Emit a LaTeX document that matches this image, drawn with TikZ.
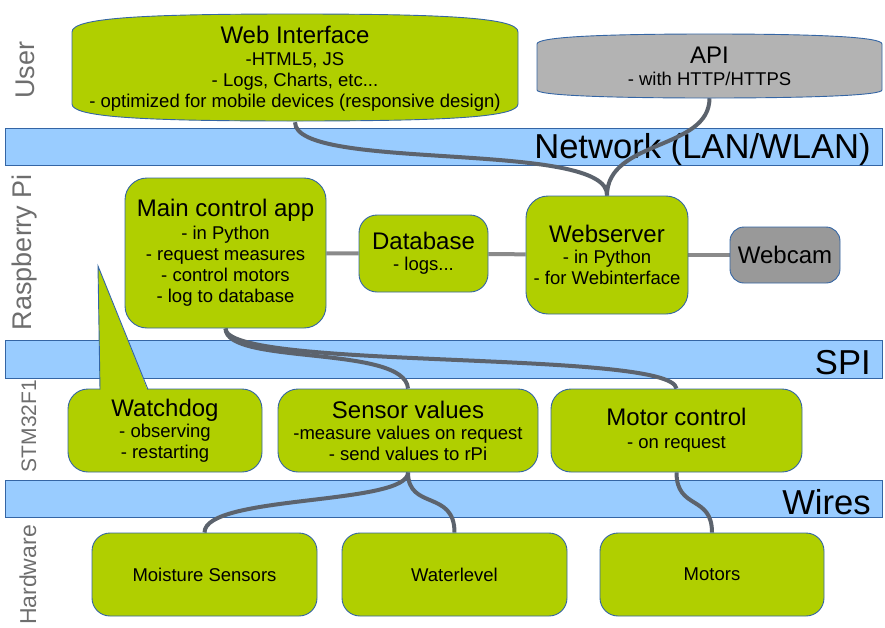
\documentclass[tikz,border=0pt]{standalone}
\usepackage{fontspec}
\setmainfont{Liberation Sans}
\usepackage{tikz}
\usetikzlibrary{positioning}

\definecolor{leaf}{HTML}{B0CF00}
\definecolor{apigray}{HTML}{B3B3B3}
\definecolor{camgray}{HTML}{999999}
\definecolor{busblue}{HTML}{99CCFF}
\definecolor{edgeblue}{HTML}{3465A4}
\definecolor{cablegray}{HTML}{5C636D}
\definecolor{linkgray}{HTML}{8A8A8A}
\definecolor{sidegray}{HTML}{6E6E6E}

\pgfdeclarelayer{background}
\pgfsetlayers{background,main}

\newcommand{\boxtitle}{\fontsize{24}{26}\selectfont}
\newcommand{\boxtext}{\fontsize{18.5}{21}\selectfont}

\tikzset{
  block/.style={draw=edgeblue, line width=0.9pt, fill=leaf, rounded corners=20, align=center, inner sep=0pt, font=\boxtext},
  textonly/.style={align=center, inner sep=0pt, font=\boxtext},
  bulge/.style={draw=edgeblue, line width=0.9pt},
  bus/.style={draw=edgeblue, line width=0.9pt, fill=busblue, minimum width=877, minimum height=37, anchor=north west, inner sep=0pt},
  bustext/.style={font=\fontsize{34.6}{36}\selectfont, inner sep=0pt, yshift=-3pt},
  tier/.style={rotate=90, text=sidegray, font=\fontsize{27}{29}\selectfont, inner sep=0pt},
  cable/.style={draw=cablegray, line width=4pt},
  link/.style={draw=linkgray, line width=4pt},
}

\begin{document}
\begin{tikzpicture}[x=1pt, y=-1pt]
\useasboundingbox (0,0) rectangle (885,627);

% layers
\begin{pgfonlayer}{background}
\node[bus] (lan) at (5,128) {};
\node[bustext, left=12pt of lan.east] (lantext) {Network (LAN/WLAN)};
\node[bus, minimum height=38] (spi) at (5,340) {};
\node[bustext, left=12pt of spi.east] (spitext) {SPI};
\node[bus] (wires) at (5,480) {};
\node[bustext, left=12pt of wires.east] (wirestext) {Wires};
\end{pgfonlayer}

\node[tier] (userside) at (25,70) {User};
\node[tier] (piside) at (25,252) {Raspberry Pi};
\node[tier, font=\fontsize{21}{23}\selectfont] (stmside) at (29,426) {STM32F1};
\node[tier, font=\fontsize{23}{25}\selectfont] (hwside) at (28,575) {Hardware};

% user boxes
\draw[bulge, fill=leaf] (72,104) -- (72,32) .. controls (72,18) and (140,14) .. (295,14) .. controls (450,14) and (518,18) .. (518,32) -- (518,104) .. controls (518,117) and (450,121) .. (295,121) .. controls (140,121) and (72,117) .. (72,104) -- cycle;
\draw[bulge, fill=apigray] (537,90) -- (537,44) .. controls (537,37) and (600,34) .. (709.5,34) .. controls (819,34) and (882,37) .. (882,44) -- (882,90) .. controls (882,95) and (819,98) .. (709.5,98) .. controls (600,98) and (537,95) .. (537,90) -- cycle;
\node[textonly, minimum width=446, minimum height=107] (web) at (295,68.5) {{\boxtitle Web Interface}\\[1pt]-HTML5, JS\\- Logs, Charts, etc...\\- optimized for mobile devices (responsive design)};
\node[textonly, minimum width=345, minimum height=64] (api) at (709.5,66) {{\boxtitle API}\\[1pt]- with HTTP/HTTPS};

% raspberry pi
\node[block, minimum width=201, minimum height=150, rounded corners=22] (main) at (225.5,253) {{\boxtitle Main control app}\\[2pt]- in Python\\- request measures\\- control motors\\- log to database};
\node[block, minimum width=129, minimum height=77, rounded corners=18] (db) at (423.5,253.5) {{\boxtitle Database}\\- logs...};
\node[block, minimum width=162, minimum height=118, rounded corners=22] (webserver) at (607,255) {{\boxtitle Webserver}\\- in Python\\- for Webinterface};
\node[block, fill=camgray, minimum width=110, minimum height=56, rounded corners=14] (webcam) at (785,255) {\boxtitle Webcam};

% stm32
\node[block, minimum width=194, minimum height=83] (dog) at (165,430.5) {{\boxtitle Watchdog}\\- observing\\- restarting};
\fill[leaf] (98,266) -- (148,391) -- (100,391) -- cycle;
\draw[bulge] (100,389.5) -- (98,266) -- (148,389.5);
\node[block, minimum width=260, minimum height=83] (sensor) at (408,430.5) {{\boxtitle Sensor values}\\-measure values on request\\- send values to rPi};
\node[block, minimum width=251, minimum height=83] (motorctl) at (676.5,430.5) {{\boxtitle Motor control}\\[2pt]- on request};

% hardware
\node[block, minimum width=225, minimum height=83, rounded corners=18] (moisture) at (204.5,574.5) {Moisture Sensors};
\node[block, minimum width=225, minimum height=83, rounded corners=18] (water) at (454.5,574.5) {Waterlevel};
\node[block, minimum width=224, minimum height=83, rounded corners=18] (motors) at (712,574.5) {Motors};

% links
\begin{pgfonlayer}{background}
\draw[cable] (web.south) .. controls +(0,50) and +(3,-56) .. (webserver.north);
\draw[cable] (api.south) .. controls +(0,52) and +(0,-56) .. (webserver.north);
\draw[link] (main) -- (db);
\draw[link] (db) -- (webserver);
\draw[link] (webserver) -- (webcam);
\draw[cable] (main.south) .. controls +(0,42) and +(-6,-39) .. (motorctl.north);
\draw[cable] (main.south) .. controls +(0,37) and +(-3,-44) .. (sensor.north);
\draw[cable] (sensor.south) .. controls +(0,33) and +(0,-38) .. (moisture.north);
\draw[cable] (sensor.south) .. controls +(0,38) and +(0,-43) .. (water.north);
\draw[cable] (motorctl.south) .. controls +(0,38) and +(0,-38) .. (motors.north);
\end{pgfonlayer}

\end{tikzpicture}
\end{document}
